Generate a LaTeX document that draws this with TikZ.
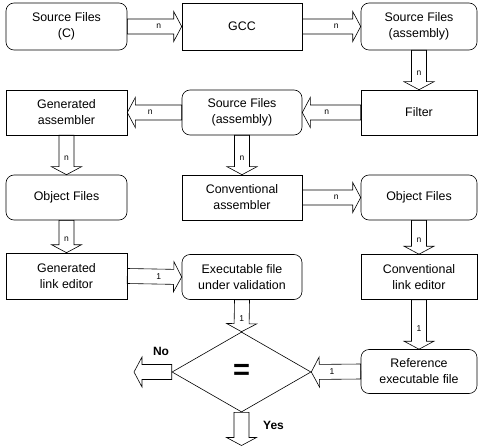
\documentclass[tikz,border=0pt]{standalone}
\usepackage{fontspec}
\setmainfont{Liberation Sans}
\usetikzlibrary{calc,shapes.geometric}

\begin{document}
\begin{tikzpicture}[x = 1pt, y = -1pt, line width = 0.6pt,
        box/.style = {draw, align = center, minimum width = 120pt, minimum height = 45pt,
            inner sep = 2pt, font = \fontsize{12.4}{16}\selectfont},
        roundbox/.style = {box, rounded corners = 8pt},
        lbl/.style = {font = \fontsize{8.5}{10}\selectfont, inner sep = 0pt},
        answer/.style = {font = \fontsize{12}{14}\selectfont\bfseries, inner sep = 0pt},
        fat/.style = {to path = {let \p1 = ($(\tikztotarget)!8pt!(\tikztostart)$) in
            ($(\tikztostart)!7.5pt!90:(\tikztotarget)$) -- ($(\p1)!7.5pt!90:(\tikztotarget)$)
            -- ($(\p1)!15pt!90:(\tikztotarget)$) -- (\tikztotarget)
            -- ($(\p1)!15pt!-90:(\tikztotarget)$) -- ($(\p1)!7.5pt!-90:(\tikztotarget)$)
            -- ($(\tikztostart)!7.5pt!-90:(\tikztotarget)$) -- cycle
            node[lbl] at ($(\tikztostart)!0.58!(\tikztotarget)$) {#1}}},
        fat/.default = {}]
        \useasboundingbox (0, 0) rectangle (478, 446);

        % first row
        \node[roundbox, minimum width = 121pt, minimum height = 47pt] (srcc) at (66.5, 26.5) {Source Files\\(C)};
        \node[box, minimum height = 47pt] (gcc) at (242, 26.5) {GCC};
        \node[roundbox, minimum width = 116pt, minimum height = 47pt] (srcasm) at (419, 26.5) {Source Files\\(assembly)};

        % second row
        \node[box, minimum width = 116pt] (filter) at (419, 112.5) {Filter};
        \node[roundbox] (filtasm) at (242, 112.5) {Source Files\\(assembly)};
        \node[box, minimum width = 121pt] (genasm) at (66.5, 112.5) {Generated\\assembler};

        % third row
        \node[roundbox, minimum width = 121pt] (genobj) at (66.5, 197.5) {Object Files};
        \node[box] (convasm) at (242, 197.5) {Conventional\\assembler};
        \node[roundbox, minimum width = 116pt] (convobj) at (419, 197.5) {Object Files};

        % fourth row
        \node[box, minimum width = 121pt, minimum height = 46pt] (genlink) at (66.5, 276) {Generated\\link editor};
        \node[roundbox] (exefile) at (242, 277) {Executable file\\under validation};
        \node[box, minimum width = 116pt] (convlink) at (419, 277) {Conventional\\link editor};

        % comparison
        \node[roundbox, minimum width = 116pt, minimum height = 44pt] (reffile) at (419, 371.5) {Reference\\executable file};
        \node[draw, diamond, minimum width = 139pt, minimum height = 80pt, inner sep = 0pt,
            font = \fontsize{29}{29}\selectfont\bfseries] (cmp) at (241.5, 372) {=};
        \coordinate (noend) at (134, 372);
        \coordinate (yesend) at (241.5, 445.5);
        \node[answer] (nolbl) at (161, 351) {No};
        \node[answer] (yeslbl) at (273.5, 425) {Yes};

        \draw (srcc.east) to[fat = n] (gcc.west);
        \draw (gcc.east) to[fat = n] (srcasm.west);
        \draw (srcasm.south) to[fat = n] (filter.north);
        \draw (filter.west) to[fat = n] (filtasm.east);
        \draw (filtasm.west) to[fat = n] (genasm.east);
        \draw (genasm.south) to[fat = n] (genobj.north);
        \draw (filtasm.south) to[fat = n] (convasm.north);
        \draw (convasm.east) to[fat = n] (convobj.west);
        \draw (genobj.south) to[fat = n] (genlink.north);
        \draw (convobj.south) to[fat = n] (convlink.north);
        \draw (genlink.east) to[fat = 1] (exefile.west);
        \draw (exefile.south) to[fat = 1] (cmp.north);
        \draw (convlink.south) to[fat = 1] (reffile.north);
        \draw (reffile.west) to[fat = 1] (cmp.east);
        \draw (cmp.west) to[fat] (noend);
        \draw (cmp.south) to[fat] (yesend);
    \end{tikzpicture}
\end{document}
